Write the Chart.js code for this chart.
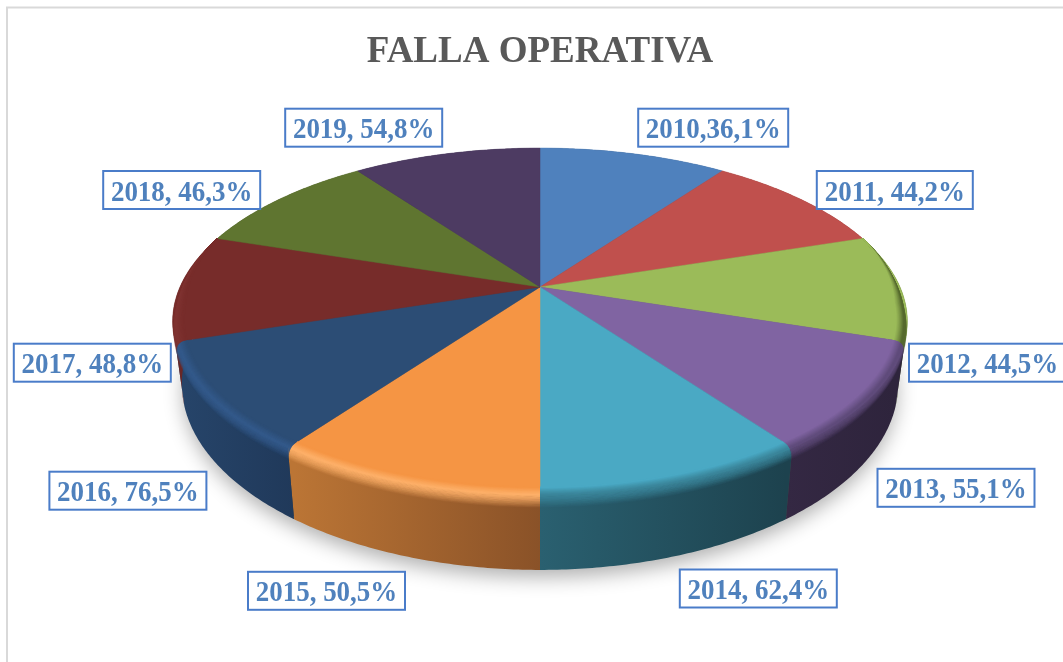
<!DOCTYPE html>
<html>
<head>
<meta charset="utf-8">
<style>html,body{margin:0;padding:0;background:#fff;overflow:hidden}canvas{display:block}</style>
<script src="https://cdn.jsdelivr.net/npm/chart.js@4"></script>
</head>
<body>
<canvas id="c" width="1063" height="662"></canvas>
<script>
const years = ['2010','2011','2012','2013','2014','2015','2016','2017','2018','2019'];
const failureRates = ['36,1%','44,2%','44,5%','55,1%','62,4%','50,5%','76,5%','48,8%','46,3%','54,8%'];
const sliceShares = [10,10,10,10,10,10,10,10,10,10];
const labelSeparators = [',',', ',', ',', ',', ',', ',', ',', ',', ',', '];
const topColours = ['#4f81bd','#c0504d','#9bbb59','#8064a2','#4aa9c4','#f59544','#2c4d75','#772c2a','#5f7530','#4d3b62'];
const wallFrom = ['#2f4d72','#732f2e','#3b4a20','#342843','#2a6070','#bb7535','#264469','#6a2726','#3c4a1e','#2f243c'];
const wallTo   = ['#2f4d72','#732f2e','#3b4a20','#2e243c','#1d424e','#8a5228','#20395a','#6a2726','#3c4a1e','#2f243c'];
const rimLight = ['#4f81bd','#c0504d','#566a2e','#5f4b7a','#3a8499','#fdb069','#33598a','#7f3331','#5f7530','#4d3b62'];
const labelCentres = [[713.2,127.7],[894.8,190],[987.5,362.7],[956,487.8],[758.3,588.5],[326.5,590.8],[127.9,490.7],[92.3,362.7],[181.7,190],[363.7,127.7]];

const view = {cx:540, cy:287, a:360, b:166.6, k:0.199, h:60, shrink:0.975};

function project(theta, r, depth){
  const u = Math.sin(theta)*r, v = -Math.cos(theta)*r;
  const w = 1 - view.k*v;
  const s = 1 - (1-view.shrink)*depth;
  return [view.cx + view.a*u*s/w, view.cy + (view.b*v + view.h*depth)/w];
}
function trace(ctx, t0, t1, r, depth, first){
  const n = Math.max(2, Math.ceil(Math.abs(t1-t0)/0.01));
  for(let i=0;i<=n;i++){
    const p = project(t0+(t1-t0)*i/n, r, depth);
    if(i===0 && first) ctx.moveTo(p[0],p[1]); else ctx.lineTo(p[0],p[1]);
  }
}
function hexRgb(h){const n=parseInt(h.slice(1),16);return [n>>16,(n>>8)&255,n&255];}
function mix(a,b,t){const x=hexRgb(a),y=hexRgb(b);return x.map((c,i)=>c+(y[i]-c)*t);}
function rimFade(theta){
  const lo=Math.PI*0.40, hi=Math.PI*1.60, ramp=Math.PI*0.13;
  return Math.max(0,Math.min(1,(theta-lo)/ramp,(hi-theta)/ramp));
}

const solidPie = {
  id:'solidPie',
  beforeDraw(chart){
    const ctx = chart.ctx;
    ctx.save();
    ctx.fillStyle='#fff';ctx.fillRect(0,0,chart.width,chart.height);
    ctx.strokeStyle='#d9d9d9';ctx.lineWidth=2;
    ctx.beginPath();ctx.moveTo(7,662);ctx.lineTo(7,7.5);ctx.lineTo(1063,7.5);ctx.stroke();
    ctx.restore();
  },
  beforeDatasetsDraw(chart){
    const ctx = chart.ctx, arcs = chart.getDatasetMeta(0).data;
    const span = arcs.map(a=>[a.startAngle+Math.PI/2, a.endAngle+Math.PI/2]);
    ctx.save();
    // cast shadow
    ctx.save();
    ctx.shadowColor='rgba(0,0,0,0.32)';ctx.shadowBlur=20;ctx.shadowOffsetY=9;ctx.fillStyle='#444';
    ctx.beginPath();trace(ctx,0,Math.PI*2,0.995,0.99,true);ctx.closePath();ctx.fill();
    ctx.restore();
    // side walls
    arcs.forEach((a,i)=>{
      const [t0,t1]=span[i];
      const p0=project(t0,1,1),p1=project(t1,1,1);
      const x0=Math.min(p0[0],p1[0]),x1=Math.max(p0[0],p1[0]);
      const g=ctx.createLinearGradient(x0,0,x1,0);
      g.addColorStop(0,wallFrom[i]);g.addColorStop(1,wallTo[i]);
      ctx.fillStyle=g;
      ctx.beginPath();trace(ctx,t0,t1,1,0,true);trace(ctx,t1,t0,1,1,false);ctx.closePath();ctx.fill();
    });
    // top faces
    arcs.forEach((a,i)=>{
      const [t0,t1]=span[i];
      ctx.fillStyle=topColours[i];ctx.strokeStyle=topColours[i];ctx.lineWidth=0.5;
      ctx.beginPath();ctx.moveTo(view.cx,view.cy);trace(ctx,t0,t1,1,0,false);ctx.closePath();ctx.fill();ctx.stroke();
    });
    // bevel along the visible rim, tapering to nothing at the sides
    const steps=26;
    arcs.forEach((a,i)=>{
      const t0=Math.max(span[i][0],Math.PI*0.40), t1=Math.min(span[i][1],Math.PI*1.60);
      if(t1<=t0) return;
      const n=Math.ceil((t1-t0)/0.01);
      for(let s=steps;s>=0;s--){
        const f=s/steps;
        let rgb,alpha;
        if(f<0.4){rgb=mix(topColours[i],rimLight[i],f/0.4);alpha=1;}
        else{rgb=hexRgb(rimLight[i]);alpha=1-(f-0.4)/0.6;}
        ctx.strokeStyle=`rgba(${rgb.map(Math.round).join(',')},${alpha})`;
        ctx.lineWidth=1.4;
        ctx.beginPath();
        for(let j=0;j<=n;j++){
          const th=t0+(t1-t0)*j/n, m=rimFade(th);
          const p=project(th,1-0.03*m*(1-f)*(1-f),0.17*m*f*f);
          if(j===0)ctx.moveTo(p[0],p[1]);else ctx.lineTo(p[0],p[1]);
        }
        ctx.stroke();
      }
    });
    ctx.restore();
    return false;
  },
  afterDraw(chart){
    const ctx=chart.ctx;
    ctx.save();
    ctx.font='bold 28.4px "Liberation Serif"';
    ctx.textBaseline='alphabetic';ctx.textAlign='center';
    years.forEach((y,i)=>{
      const txt=y+labelSeparators[i]+failureRates[i];
      const tw=ctx.measureText(txt).width*0.95;
      const w=Math.ceil(tw)+15, H=38;
      const [x,yy]=labelCentres[i];
      ctx.fillStyle='#fff';ctx.fillRect(x-w/2,yy-H/2,w,H);
      ctx.strokeStyle='#4a7cc9';ctx.lineWidth=2;ctx.strokeRect(x-w/2,yy-H/2,w,H);
      ctx.save();
      ctx.translate(x,yy+10.5);ctx.scale(0.95,1);
      ctx.fillStyle='#4f81bd';ctx.fillText(txt,0,0);
      ctx.restore();
    });
    ctx.restore();
  }
};

new Chart(document.getElementById('c'),{
  type:'pie',
  data:{labels:years,datasets:[{data:sliceShares,backgroundColor:topColours,borderWidth:0}]},
  options:{
    responsive:false,animation:false,
    layout:{padding:{left:17}},
    plugins:{
      legend:{display:false},tooltip:{enabled:false},
      title:{display:true,text:'FALLA OPERATIVA',color:'#595959',
        font:{family:'"Liberation Serif"',size:37,weight:'bold'},padding:{top:30,bottom:10}}
    }
  },
  plugins:[solidPie]
});
</script>
</body>
</html>
